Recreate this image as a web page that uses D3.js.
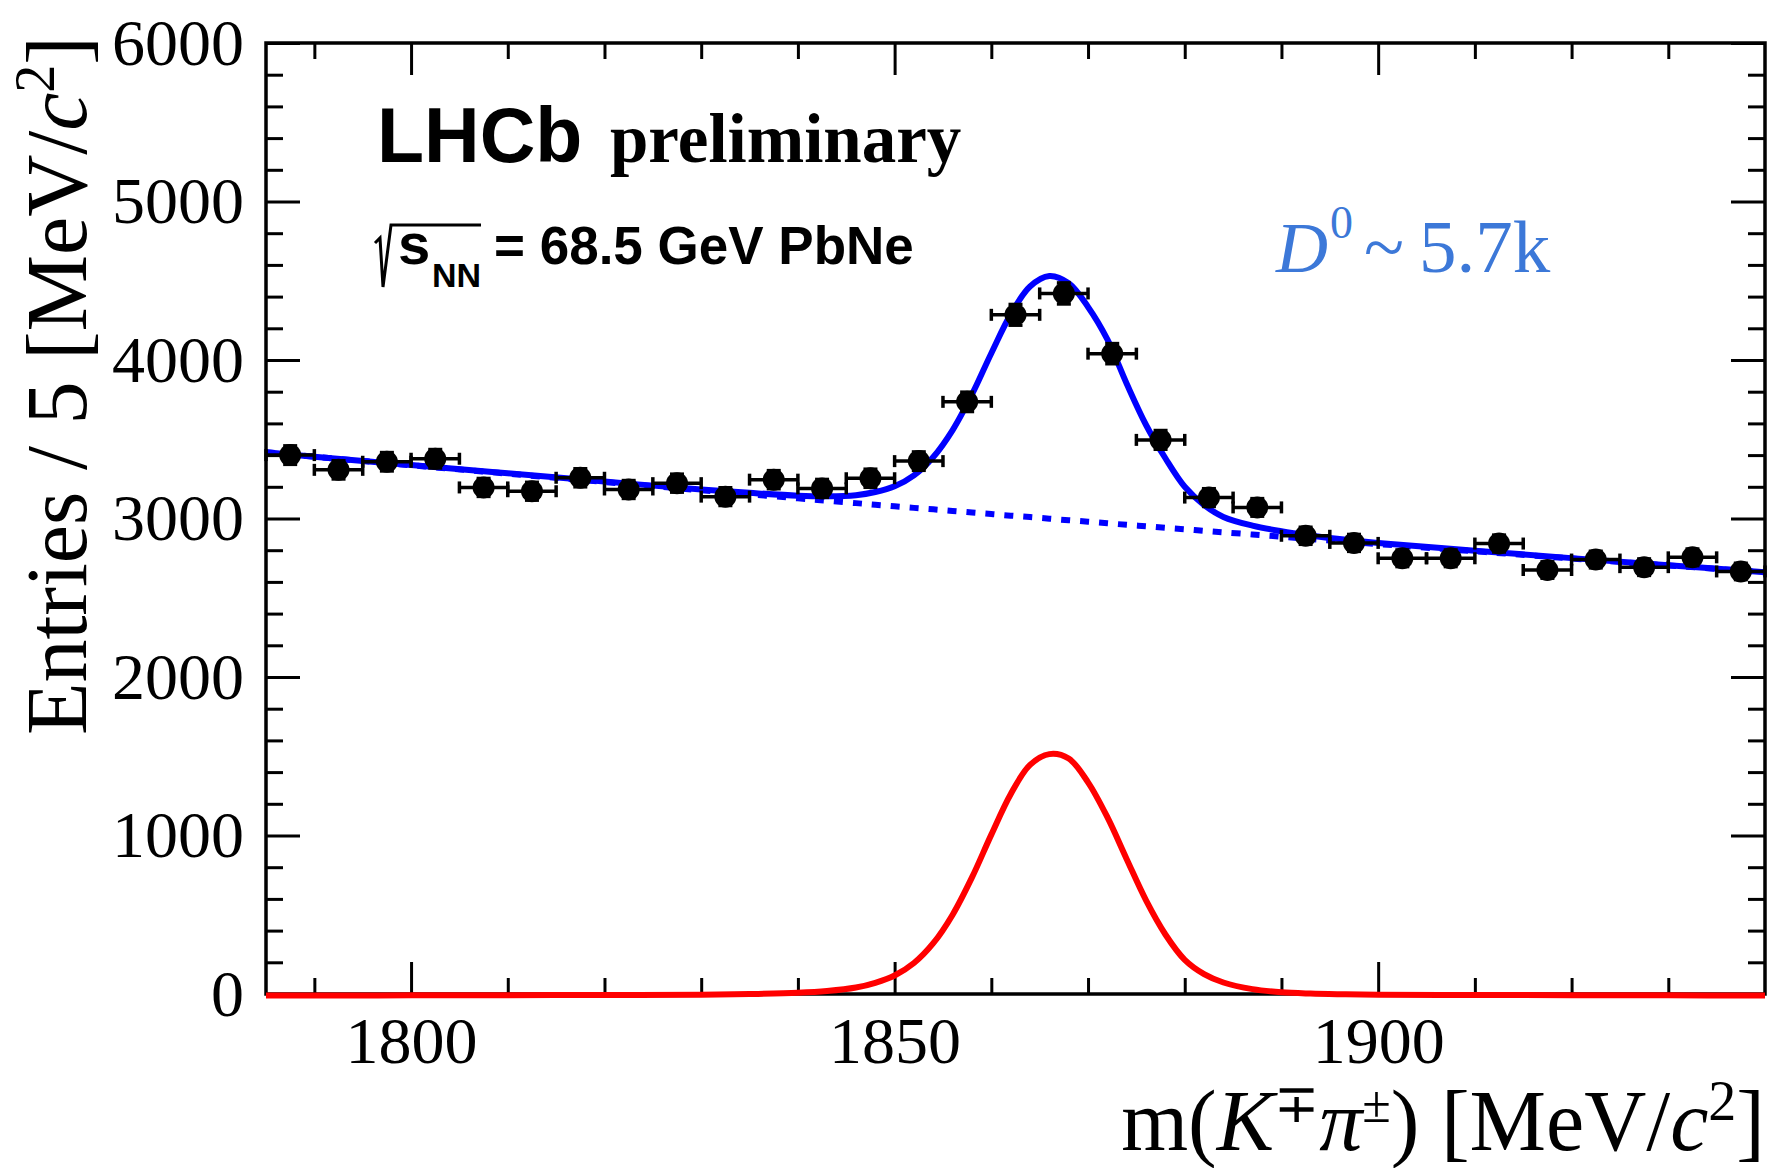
<!DOCTYPE html>
<html><head><meta charset="utf-8">
<script src="https://cdn.jsdelivr.net/npm/d3@7"></script>
<style>body{margin:0;background:#fff}svg{display:block}</style>
</head><body>
<svg id="c" width="1777" height="1168"></svg>
<script>
// ---- data ----
const binCenters = [1787.5,1792.5,1797.5,1802.5,1807.5,1812.5,1817.5,1822.5,1827.5,1832.5,1837.5,1842.5,1847.5,1852.5,1857.5,1862.5,1867.5,1872.5,1877.5,1882.5,1887.5,1892.5,1897.5,1902.5,1907.5,1912.5,1917.5,1922.5,1927.5,1932.5,1937.5];
const counts = [3400,3307,3358,3377,3196,3172,3257,3183,3223,3138,3245,3190,3254,3362,3736,4285,4420,4040,3496,3132,3070,2891,2846,2749,2749,2842,2675,2741,2693,2755,2666];
const binHalfWidth = 2.5;
const curveMass = [1785,1790,1800,1810,1820,1830,1835,1840,1843,1846,1848,1850,1852,1854,1856,1858,1860,1862,1864,1866,1868,1870,1872,1874,1876,1878,1880,1882,1884,1887,1890,1893,1896,1900,1910,1920,1930,1940];
const totalFit = [3418,3390,3337,3285,3233,3183,3162,3144,3140,3147,3167,3203,3272,3388,3558,3783,4043,4288,4464,4530,4484,4335,4130,3850,3590,3380,3200,3085,3010,2955,2920,2893,2870,2845,2797,2750,2705,2661];
const bkgFit = [3418,3390,3336,3283,3230,3178,3153,3127,3112,3097,3087,3077,3067,3058,3048,3038,3028,3018,3009,2999,2989,2980,2970,2960,2951,2941,2932,2922,2913,2899,2885,2871,2857,2839,2793,2748,2704,2661];
const sigFit = [0,0,1,2,3,5,9,17,28,50,80,126,205,330,510,745,1015,1270,1455,1523,1495,1345,1125,860,600,385,225,135,82,40,20,12,8,5,3,2,1,0];
const xDomain = [1785,1940];
const yDomain = [0,6000];
const xMajorTicks = [1800,1850,1900];
const xMinorTicks = [1790,1810,1820,1830,1840,1860,1870,1880,1890,1910,1920,1930];
const yMajorTicks = [0,1000,2000,3000,4000,5000,6000];
const yMinorTicks = [200,400,600,800,1200,1400,1600,1800,2200,2400,2600,2800,3200,3400,3600,3800,4200,4400,4600,4800,5200,5400,5600,5800];

// ---- layout ----
const L=266,R=1765,T=43,B=994;
const svg=d3.select("#c");
const x=d3.scaleLinear().domain(xDomain).range([L,R]);
const y=d3.scaleLinear().domain(yDomain).range([B,T]);

const defs=svg.append("defs");
defs.append("clipPath").attr("id","clip")
  .append("rect").attr("x",L).attr("y",T).attr("width",R-L).attr("height",B-T);
defs.append("clipPath").attr("id","clipS")
  .append("rect").attr("x",L).attr("y",T).attr("width",R-L).attr("height",B-T+8);

const serif="'Liberation Serif','Times New Roman',serif";
const sans="'Liberation Sans',Arial,Helvetica,sans-serif";

// fit curves
const plot=svg.append("g").attr("clip-path","url(#clip)");
const pts=(arr)=>curveMass.map((m,i)=>[m,arr[i]]);
const line=d3.line().x(d=>x(d[0])).y(d=>y(d[1])).curve(d3.curveCatmullRom.alpha(0.5));

plot.append("path").attr("d",line(pts(bkgFit))).attr("fill","none")
  .attr("stroke","#0000ff").attr("stroke-width",6).attr("stroke-dasharray","9,10");

// data points
const g=svg.append("g").attr("stroke","#000").attr("stroke-width",3.5);
binCenters.forEach((m,i)=>{
  const v=counts[i], cy=y(v), x0=x(m-binHalfWidth), x1=x(m+binHalfWidth);
  const e=Math.sqrt(v), y0=y(v-e), y1=y(v+e);
  g.append("line").attr("x1",x0).attr("x2",x1).attr("y1",cy).attr("y2",cy);
  g.append("line").attr("x1",x0).attr("x2",x0).attr("y1",cy-6).attr("y2",cy+6);
  g.append("line").attr("x1",x1).attr("x2",x1).attr("y1",cy-6).attr("y2",cy+6);
  g.append("line").attr("x1",x(m)).attr("x2",x(m)).attr("y1",y0).attr("y2",y1);
  g.append("line").attr("x1",x(m)-7).attr("x2",x(m)+7).attr("y1",y0).attr("y2",y0);
  g.append("line").attr("x1",x(m)-7).attr("x2",x(m)+7).attr("y1",y1).attr("y2",y1);
  svg.append("circle").attr("cx",x(m)).attr("cy",cy).attr("r",11).attr("fill","#000");
});

plot.append("path").attr("d",line(pts(totalFit))).attr("fill","none")
  .attr("stroke","#0000ff").attr("stroke-width",6);

// axes / frame
function styleAxis(sel){
  sel.select(".domain").remove();
  sel.selectAll(".tick line").attr("stroke","#000").attr("stroke-width",3);
  sel.selectAll("text").attr("font-family",serif).attr("font-size",66).attr("fill","#000");
}
svg.append("g").attr("transform",`translate(0,${B})`)
  .call(d3.axisBottom(x).tickValues(xMajorTicks).tickSizeInner(-32).tickSizeOuter(0).tickPadding(22).tickFormat(d3.format("d")))
  .call(styleAxis);
svg.append("g").attr("transform",`translate(0,${B})`)
  .call(d3.axisBottom(x).tickValues(xMinorTicks).tickSizeInner(-16).tickSizeOuter(0).tickFormat(""))
  .call(styleAxis);
svg.append("g").attr("transform",`translate(0,${T})`)
  .call(d3.axisTop(x).tickValues(xMajorTicks).tickSizeInner(-32).tickSizeOuter(0).tickFormat(""))
  .call(styleAxis);
svg.append("g").attr("transform",`translate(0,${T})`)
  .call(d3.axisTop(x).tickValues(xMinorTicks).tickSizeInner(-16).tickSizeOuter(0).tickFormat(""))
  .call(styleAxis);
svg.append("g").attr("transform",`translate(${L},0)`)
  .call(d3.axisLeft(y).tickValues(yMajorTicks).tickSizeInner(-34).tickSizeOuter(0).tickPadding(22).tickFormat(d3.format("d")))
  .call(styleAxis);
svg.append("g").attr("transform",`translate(${L},0)`)
  .call(d3.axisLeft(y).tickValues(yMinorTicks).tickSizeInner(-17).tickSizeOuter(0).tickFormat(""))
  .call(styleAxis);
svg.append("g").attr("transform",`translate(${R},0)`)
  .call(d3.axisRight(y).tickValues(yMajorTicks).tickSizeInner(-34).tickSizeOuter(0).tickFormat(""))
  .call(styleAxis);
svg.append("g").attr("transform",`translate(${R},0)`)
  .call(d3.axisRight(y).tickValues(yMinorTicks).tickSizeInner(-17).tickSizeOuter(0).tickFormat(""))
  .call(styleAxis);

svg.append("rect").attr("x",L).attr("y",T).attr("width",R-L).attr("height",B-T)
  .attr("fill","none").attr("stroke","#000").attr("stroke-width",3.5);

// signal curve on top
svg.append("path").attr("clip-path","url(#clipS)").attr("d",line(pts(sigFit))).attr("fill","none")
  .attr("stroke","#ff0000").attr("stroke-width",6)
  .attr("transform","translate(0,1.5)");

// axis titles
const yt=svg.append("text").attr("transform","translate(86,36) rotate(-90)")
  .attr("text-anchor","end").attr("font-family",serif).attr("font-size",86).attr("fill","#000");
yt.append("tspan").text("Entries / 5 [MeV/");
yt.append("tspan").attr("font-style","italic").text("c");
yt.append("tspan").attr("font-size",56).attr("dy",-32).text("2");
yt.append("tspan").attr("dy",32).text("]");

const xt=svg.append("text").attr("transform","translate(1765,1150)")
  .attr("text-anchor","end").attr("font-family",serif).attr("font-size",86).attr("fill","#000");
xt.append("tspan").text("m(");
xt.append("tspan").attr("font-style","italic").text("K");
xt.append("tspan").attr("font-size",54).attr("dy",-28).text("\u2213");
xt.append("tspan").attr("font-style","italic").attr("dy",28).text("\u03c0");
xt.append("tspan").attr("font-size",52).attr("dy",-28).text("\u00b1");
xt.append("tspan").attr("dy",28).text(") [MeV/");
xt.append("tspan").attr("font-style","italic").text("c");
xt.append("tspan").attr("font-size",56).attr("dy",-30).text("2");
xt.append("tspan").attr("dy",30).text("]");

// LHCb label
svg.append("text").attr("x",377).attr("y",162).attr("font-family",sans).attr("font-weight","bold")
  .attr("font-size",77).attr("fill","#000").text("LHCb");
svg.append("text").attr("x",610).attr("y",162).attr("font-family",serif).attr("font-weight","bold")
  .attr("font-size",69).attr("fill","#000").text("preliminary");

// sqrt(s_NN) line
svg.append("path").attr("d","M375,243 L380,238 L383,287 L391,225 L481,225")
  .attr("fill","none").attr("stroke","#000").attr("stroke-width",3).attr("stroke-linejoin","miter");
svg.append("text").attr("x",398).attr("y",264).attr("font-family",sans).attr("font-weight","bold")
  .attr("font-size",58).attr("fill","#000").text("s");
svg.append("text").attr("x",432).attr("y",287).attr("font-family",sans).attr("font-weight","bold")
  .attr("font-size",34).attr("fill","#000").text("NN");
svg.append("text").attr("x",494).attr("y",264).attr("font-family",sans).attr("font-weight","bold")
  .attr("font-size",53).attr("fill","#000").text("= 68.5 GeV PbNe");

// D0 yield
const dc="#3c78d8";
svg.append("text").attr("x",1276).attr("y",272).attr("font-family",serif).attr("font-style","italic")
  .attr("font-size",72).attr("fill",dc).text("D");
svg.append("text").attr("x",1330).attr("y",238).attr("font-family",serif)
  .attr("font-size",46).attr("fill",dc).text("0");
svg.append("text").attr("x",1364).attr("y",272).attr("font-family",serif)
  .attr("font-size",74).attr("fill",dc).text("~");
svg.append("text").attr("x",1419).attr("y",272).attr("font-family",serif)
  .attr("font-size",75).attr("fill",dc).text("5.7k");
</script>
</body></html>
